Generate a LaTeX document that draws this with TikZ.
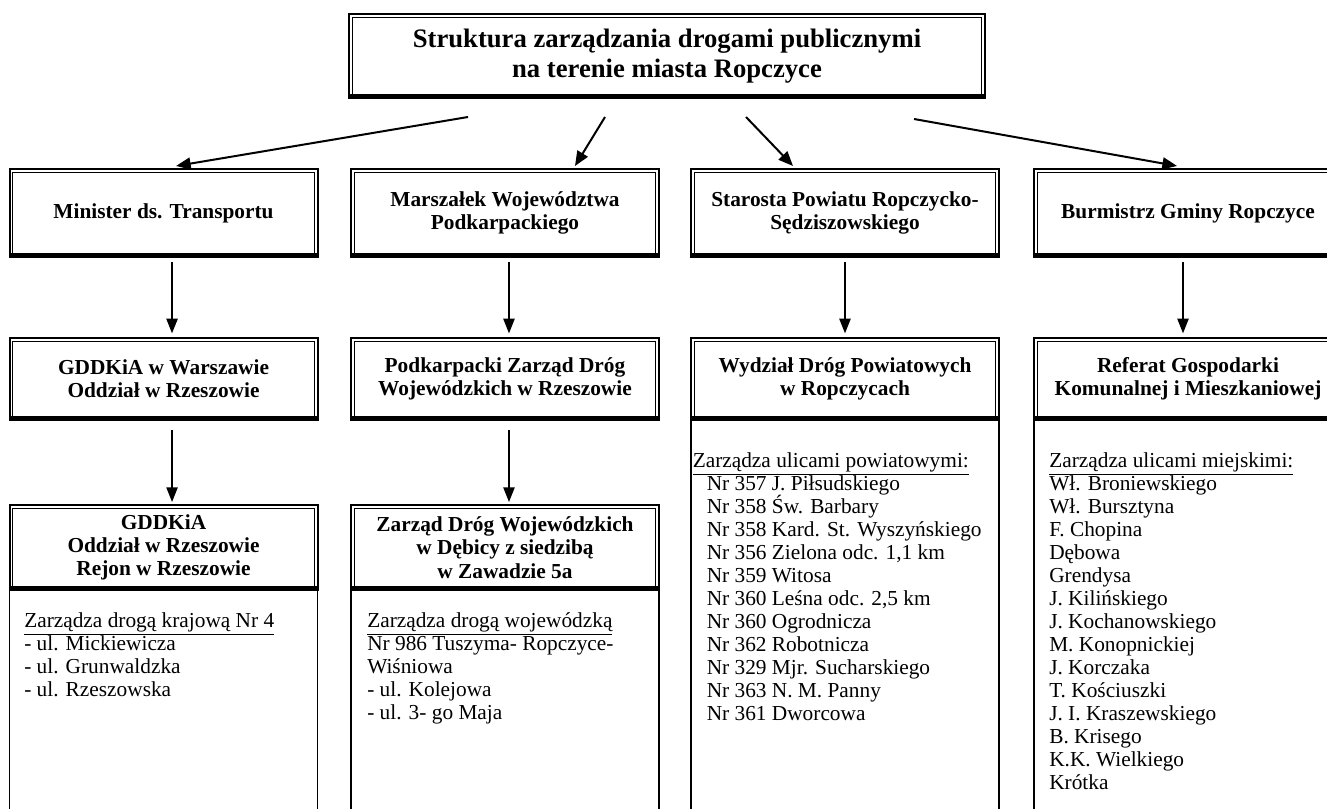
\documentclass[tikz,border=0pt]{standalone}
\usepackage{fontspec}
\setmainfont{Liberation Serif}
\usetikzlibrary{arrows.meta}
\begin{document}
\begin{tikzpicture}[x=0.75pt,y=-0.75pt]
\tikzset{
 hdr/.style={rectangle, draw, line width=1.5pt, outer sep=0pt, inner sep=0pt, minimum width=231pt, align=center, font=\fontsize{16}{17.5}\selectfont\bfseries},
 lst/.style={anchor=north west, inner sep=0pt, align=left, font=\fontsize{16}{17.25}\selectfont},
 tarrow/.style={line width=1.5pt, -{Triangle[length=11pt,width=9pt]}},
 darrow/.style={line width=1pt, -{Triangle[length=11pt,width=8.5pt]}},
 side/.style={line width=1.3pt},
}
\useasboundingbox (0,0) rectangle (1327,809);
\fill[white] (0,0) rectangle (1327,809);
\clip (0,0) rectangle (1327,809);

% title
\node[hdr, minimum width=477pt, minimum height=63pt, font=\fontsize{20}{22.5}\selectfont\bfseries] (t) at (667,56)
  {Struktura zarządzania drogami publicznymi\\na terenie miasta Ropczyce};

% level 1
\node[hdr, minimum height=66pt] (a1) at (163.5,213) {Minister ds. Transportu};
\node[hdr, minimum height=66pt] (a2) at (505,213) {Marszałek Województwa\\Podkarpackiego};
\node[hdr, minimum height=66pt] (a3) at (845,213) {Starosta Powiatu Ropczycko-\\Sędziszowskiego};
\node[hdr, minimum height=66pt] (a4) at (1188,213) {Burmistrz Gminy Ropczyce};

% level 2
\node[hdr, minimum height=61.5pt] (b1) at (163.5,379) {GDDKiA w Warszawie\\Oddział w Rzeszowie};
\node[hdr, minimum height=61.5pt] (b2) at (505,379) {Podkarpacki Zarząd Dróg\\Wojewódzkich w Rzeszowie};
\node[hdr, minimum height=61.5pt] (b3) at (845,379) {Wydział Dróg Powiatowych\\w Ropczycach};
\node[hdr, minimum height=61.5pt] (b4) at (1188,379) {Referat Gospodarki\\Komunalnej i Mieszkaniowej};

% level 3
\node[hdr, minimum height=63.75pt] (c1) at (163.5,547.5) {GDDKiA\\Oddział w Rzeszowie\\Rejon w Rzeszowie};
\node[hdr, minimum height=63.75pt] (c2) at (505,547.5) {Zarząd Dróg Wojewódzkich\\w Dębicy z siedzibą\\w Zawadzie 5a};

% inner lines and thick bottoms
\foreach \n in {t,a1,a2,a3,a4,b1,b2,b3,b4,c1,c2}{
  \draw[line width=0.75pt] ([xshift=2.6pt,yshift=2.6pt]\n.south west) rectangle ([xshift=-2.6pt,yshift=-2.6pt]\n.north east);
  \draw[line width=3.7pt] ([yshift=1.1pt]\n.south west) -- ([yshift=1.1pt]\n.south east);
}

% list frames
\draw[side] (c1.south west) -- ++(0,260);
\draw[side] (c1.south east) -- ++(0,260);
\draw[side] (c2.south west) -- ++(0,260);
\draw[side] (c2.south east) -- ++(0,260);
\draw[side] (b3.south west) -- ++(0,420);
\draw[side] (b3.south east) -- ++(0,420);
\draw[side] (b4.south west) -- ++(0,420);
\draw[side] (b4.south east) -- ++(0,420);

% lists
\node[lst] (l1) at (24,612.5) {\underline{Zarządza drogą krajową Nr 4}\\- ul. Mickiewicza\\- ul. Grunwaldzka\\- ul. Rzeszowska};
\node[lst] (l2) at (367,612.5) {\underline{Zarządza drogą wojewódzką}\\Nr 986 Tuszyma- Ropczyce-\\Wiśniowa\\- ul. Kolejowa\\- ul. 3- go Maja};
\node[lst] (l3) at (692.5,452.5) {\underline{Zarządza ulicami powiatowymi:}\\
\hspace*{10.5pt}Nr 357 J. Piłsudskiego\\
\hspace*{10.5pt}Nr 358 Św. Barbary\\
\hspace*{10.5pt}Nr 358 Kard. St. Wyszyńskiego\\
\hspace*{10.5pt}Nr 356 Zielona odc. 1,1 km\\
\hspace*{10.5pt}Nr 359 Witosa\\
\hspace*{10.5pt}Nr 360 Leśna odc. 2,5 km\\
\hspace*{10.5pt}Nr 360 Ogrodnicza\\
\hspace*{10.5pt}Nr 362 Robotnicza\\
\hspace*{10.5pt}Nr 329 Mjr. Sucharskiego\\
\hspace*{10.5pt}Nr 363 N. M. Panny\\
\hspace*{10.5pt}Nr 361 Dworcowa};
\node[lst] (l4) at (1049,452.5) {\underline{Zarządza ulicami miejskimi:}\\
Wł. Broniewskiego\\Wł. Bursztyna\\F. Chopina\\Dębowa\\Grendysa\\J. Kilińskiego\\J. Kochanowskiego\\M. Konopnickiej\\J. Korczaka\\T. Kościuszki\\J. I. Kraszewskiego\\B. Krisego\\K.K. Wielkiego\\Krótka};

% arrows from title
\coordinate (s1) at (468,117);
\coordinate (s2) at (605,117);
\coordinate (s3) at (746,117);
\coordinate (s4) at (914,119);
\draw[tarrow] (s1) -- ([xshift=9.4pt,yshift=2.25pt]a1.north);
\draw[tarrow] (s2) -- ([xshift=52.5pt,yshift=2.25pt]a2.north);
\draw[tarrow] (s3) -- ([xshift=-39pt,yshift=2.25pt]a3.north);
\draw[tarrow] (s4) -- ([xshift=-8.25pt,yshift=2.25pt]a4.north);

% down arrows
\draw[darrow, shorten <=4pt, shorten >=3.5pt] ([xshift=6.4pt]a1.south) -- ([xshift=6.4pt]b1.north);
\draw[darrow, shorten <=4pt, shorten >=3.5pt] ([xshift=3pt]a2.south) -- ([xshift=3pt]b2.north);
\draw[darrow, shorten <=4pt, shorten >=3.5pt] (a3.south) -- (b3.north);
\draw[darrow, shorten <=4pt, shorten >=3.5pt] ([xshift=-3.75pt]a4.south) -- ([xshift=-3.75pt]b4.north);
\draw[darrow, shorten <=7.5pt, shorten >=2.25pt] ([xshift=6.4pt]b1.south) -- ([xshift=6.4pt]c1.north);
\draw[darrow, shorten <=7.5pt, shorten >=2.25pt] ([xshift=3pt]b2.south) -- ([xshift=3pt]c2.north);
\end{tikzpicture}
\end{document}
